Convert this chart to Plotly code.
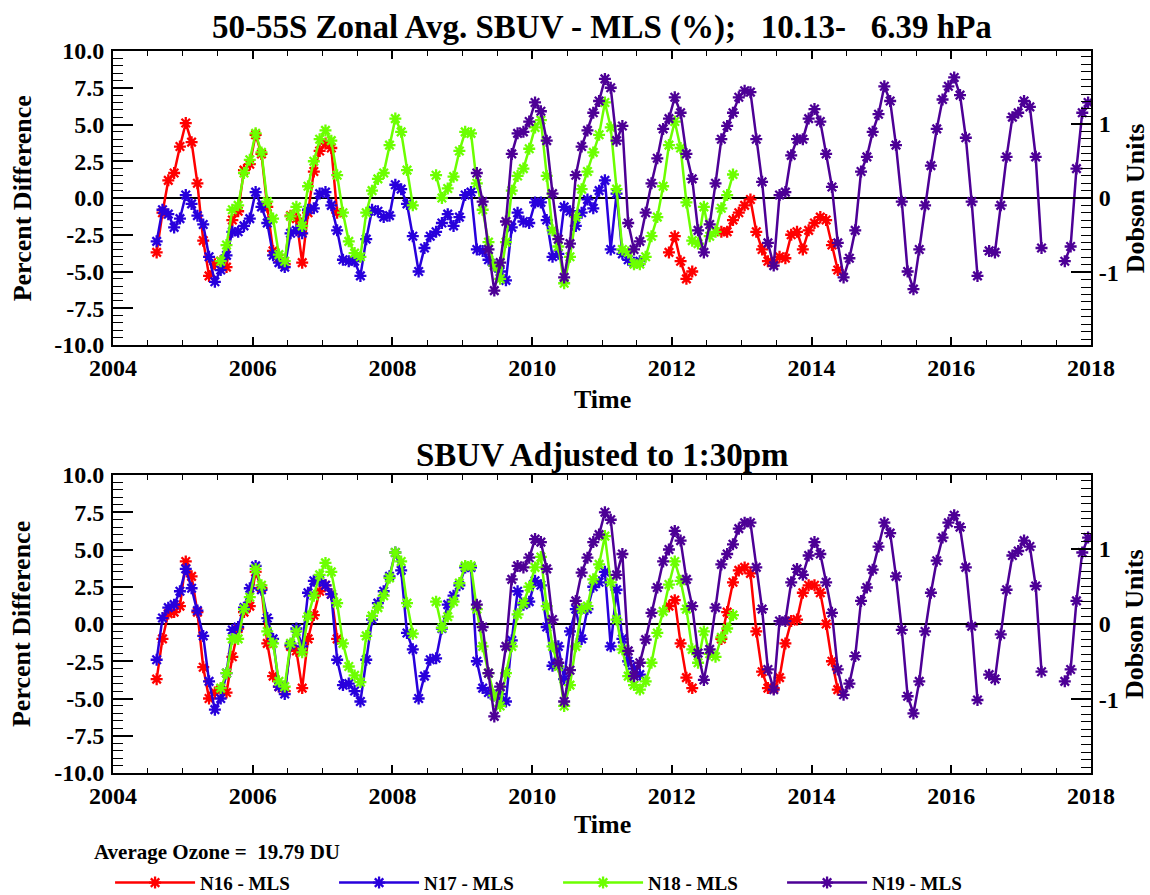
import plotly.graph_objects as go

FONT = "Liberation Serif, Times New Roman, serif"
AVG_OZONE = 19.79  # DU
TITLE_TOP = "50-55S Zonal Avg. SBUV - MLS (%);\u00a0\u00a0\u00a010.13-\u00a0\u00a0\u00a06.39 hPa"
TITLE_BOTTOM = "SBUV Adjusted to 1:30pm"

SERIES_NAMES = ["N16 - MLS", "N17 - MLS", "N18 - MLS", "N19 - MLS"]
SERIES_COLORS = ["#ff0000", "#2800dc", "#6cff00", "#4d0096"]

YEAR_TICKS = [2004, 2006, 2008, 2010, 2012, 2014, 2016, 2018]
PCT_TICKS = [-10, -7.5, -5, -2.5, 0, 2.5, 5, 7.5, 10]
PCT_LABELS = ["-10.0", "-7.5", "-5.0", "-2.5", "0.0", "2.5", "5.0", "7.5", "10.0"]
DU_TICKS = [-1, 0, 1]
DU_LABELS = ["-1", "0", "1"]

# ---------------- Top panel (monthly, start (year, month)) ----------------
N16_TOP_A_START = (2004, 8)
N16_TOP_A = [-3.7, -1.0, 1.2, 1.7, 3.5,
             5.1, 3.8, 1.0, -2.9, -5.3, -4.5, -4.3, -4.7, -1.5, -0.9, 1.9, 2.3,
             4.3, 3.0, -0.6, -3.6, -4.1, -4.5, -1.2, -1.4, -4.4, -1.0, 1.8, 3.2,
             3.7, 3.4, -1.0]
N16_TOP_B_START = (2011, 12)
N16_TOP_B = [-3.7, -2.6, -4.3, -5.5, -5.0]
N16_TOP_C_START = (2012, 9)
N16_TOP_C = [-2.3, -2.3, -1.5, -1.0, -0.5, -0.1, -2.3, -3.5, -4.3, -4.4, -4.0, -4.1,
             -2.5, -2.3, -3.5, -2.2, -1.7, -1.3, -1.5, -3.2, -4.9]

N17_TOP_START = (2004, 8)
N17_TOP = [-2.95, -0.8, -1.1, -2.0, -1.4,
           0.2, -0.4, -1.2, -1.8, -4.0, -5.7, -4.9, -3.9, -2.3, -2.3, -1.9, -1.4,
           0.4, -0.6, -1.7, -3.9, -4.4, -4.7, -2.4, -2.2, -2.4, -0.8, -0.7, 0.3,
           0.4, -0.5, -2.2, -4.2, -4.3, -4.3, -5.3, -2.8, -0.8, -0.9, -1.3, -1.2,
           0.9, 0.6, -0.4, -2.6, -5.0, -3.4, -2.6, -2.3, -1.7, -1.1, -1.9, -1.3,
           0.2, 0.4, -3.5, -3.6, -4.2, -4.6, -5.0, -5.6, -2.0, -1.0, -1.6, -1.7,
           -0.3, -0.3, -1.5, -4.0, -3.8, -0.6, -0.9, -1.9, -1.0, -0.1, -0.7, 0.5,
           1.2, -3.5, 0.3, -3.8, -4.2, -4.4, -4.3]

N18_TOP_START = (2005, 7)
N18_TOP = [-4.3, -3.2, -0.8, -0.5, 1.7, 2.6,
           4.4, 3.1, -0.25, -1.4, -3.85, -4.3, -1.25, -0.6, -1.9, 0.8, 2.5, 4.0,
           4.6, 3.9, 1.55, -1.0, -2.95, -3.75, -4.0, -1.0, 0.5, 1.3, 1.7, 3.6,
           5.4, 4.5, 1.9, -0.5, None, None, None, 1.55, 0.0, 0.65, 1.45, 3.2,
           4.5, 4.4, 1.0, -0.8, -3.0, -4.6, -5.5, -3.0, 0.5, 1.5, 2.0, 3.35,
           4.8, 5.3, 1.5, -2.2, -3.3, -5.8, -4.0, -1.3, 0.6, 1.8, 3.1, 4.3,
           6.5, 4.8, 0.6, -3.5, -3.7, -4.5, -4.5, -4.0, -2.6, -1.3, 0.8, 3.6,
           5.2, 3.4, -0.3, -2.9, -3.1, -0.6, -2.6, -2.3, -0.7, 0.2, 1.6]

N19_TOP_START = (2009, 3)
N19_TOP = [1.7, -0.25, -3.5, -6.3, -4.4, -1.6, 3.0, 4.4, 4.5, 5.2,
           6.5, 5.9, 3.9, 0.3, -2.8, -5.4, -3.1, 1.55, 3.5, 4.6, 5.8, 6.6,
           8.1, 7.5, 3.9, 4.9, -1.7, -3.5, -2.95, -1.0, 1.0, 2.7, 4.7, 5.4,
           6.85, 5.8, 3.0, 1.3, -2.2, -3.7, -1.8, 1.0, 4.0, 4.9, 5.8, 6.85,
           7.3, 7.2, 4.0, 1.1, -3.05, -4.6, 0.2, 0.4, 2.9, 4.0, 4.0, 5.4,
           6.05, 5.2, 3.0, 0.75, -3.05, -5.4, -4.1, -2.2, 1.8, 2.8, 4.5, 5.7,
           7.6, 6.6, 3.6, -0.25, -5.0, -6.2, -3.5, -0.5, 2.2, 4.7, 6.7, 7.6,
           8.2, 7.0, 4.1, -0.25, -5.3, None, -3.6, -3.7, -0.5, 2.8, 5.5, 5.8,
           6.6, 6.2, 2.8, -3.4, None, None, None, -4.3, -3.3, 2.0, 5.8, 6.5]

# ---------------- Bottom panel (adjusted to 1:30pm) ----------------
N16_BOT_A_START = (2004, 8)
N16_BOT_A = [-3.7, -1.0, 0.7, 0.8, 1.2,
             4.2, 3.2, 0.8, -2.9, -5.0, -4.6, -4.4, -4.6, -2.2, -0.3, 0.8, 1.2,
             3.5, 2.4, -1.3, -3.5, -4.2, -4.5, -1.5, -1.8, -4.3, -1.0, 0.6, 2.2,
             2.6, 2.0, -1.0]
N16_BOT_B_START = (2011, 12)
N16_BOT_B = [1.2, 1.6, -1.3, -3.6, -4.3]
N16_BOT_C_START = (2012, 9)
N16_BOT_C = [-1.0, 0.8, 2.8, 3.6, 3.8, 3.4, -0.5, -3.2, -4.3, -4.3, -3.6, -1.3,
             0.2, 0.3, 2.1, 2.6, 2.6, 2.1, 0.0, -2.5, -4.4]

N17_BOT_START = (2004, 8)
N17_BOT = [-2.4, 0.4, 1.1, 1.3, 2.2,
           3.7, 2.4, 0.9, -0.8, -3.85, -5.75, -5.0, -3.3, -0.4, -0.2, 1.1, 2.4,
           3.9, 2.3, 0.4, -1.0, -4.2, -4.7, -1.4, -0.3, -1.5, 2.1, 2.9, 2.9,
           2.6, 2.0, -2.4, -4.1, -4.0, -4.5, -5.2, -2.4, 0.3, 1.4, 2.2, 3.2,
           4.8, 3.6, -0.6, -1.7, -5.0, -3.5, -2.4, -2.3, -0.3, 1.3, 1.9, 2.6,
           3.8, 3.8, -2.5, -4.3, -4.6, -4.8, -4.7, -5.2, -1.1, 2.2, 1.3, 1.5,
           2.9, 2.6, -0.2, -2.8, -1.5, -3.7, -0.5, 1.0, -1.0, 1.0, 2.5, 2.8,
           3.5, -1.5, 2.3, -1.0, -2.5, -3.0, -3.4]

N18_BOT_START = (2005, 7)
N18_BOT = [-4.3, -3.3, -1.0, -1.0, 1.0, 1.8,
           3.7, 2.6, -0.5, -1.3, -3.85, -4.2, -1.3, -0.5, -1.9, 0.5, 1.9, 3.3,
           4.1, 3.5, 1.4, -1.3, -2.85, -3.45, -3.9, -0.8, 0.55, 1.1, 1.9, 3.1,
           4.8, 4.2, 1.4, -0.65, None, None, None, 1.5, -0.25, 0.5, 1.5, 2.75,
           3.9, 3.9, 1.0, -1.5, -3.3, -4.8, -5.5, -3.3, -1.5, 0.65, 1.4, 2.5,
           3.8, 4.5, 1.2, -1.5, -2.85, -5.5, -4.1, -1.5, 1.0, 1.2, 3.0, 4.0,
           5.9, 2.8, 0.3, -1.7, -3.5, -4.1, -4.4, -3.85, -2.6, -0.6, 0.85, 2.65,
           4.2, 2.9, 1.0, -1.7, -2.6, -0.5, -2.0, -2.2, -0.9, -0.3, 0.6]

N19_BOT_START = (2009, 3)
N19_BOT = [1.3, -0.2, -3.3, -6.2, -4.2, -1.5, 3.0, 3.9, 3.8, 4.45,
           5.7, 5.5, 3.7, 0.3, -2.6, -5.2, -3.1, 1.55, 3.45, 4.45, 5.5, 6.0,
           7.5, 7.0, 3.3, 4.7, -1.8, -3.5, -2.6, -1.05, 0.75, 2.45, 4.2, 5.0,
           6.25, 5.6, 3.0, 1.2, -1.95, -3.75, -1.7, 1.1, 4.0, 4.7, 5.35, 6.4,
           6.8, 6.8, 3.8, 1.0, -3.05, -4.4, 0.2, 0.2, 2.8, 3.7, 3.3, 4.6,
           5.5, 4.7, 2.8, 0.75, -3.05, -4.75, -4.0, -2.15, 1.55, 2.45, 3.65, 5.2,
           6.8, 6.1, 3.2, -0.4, -4.85, -6.0, -3.85, -0.5, 2.1, 4.25, 5.8, 6.8,
           7.3, 6.5, 3.8, -0.15, -5.1, None, -3.4, -3.7, -0.7, 2.3, 4.6, 4.9,
           5.6, 5.2, 2.55, -3.2, None, None, None, -3.85, -3.05, 1.55, 4.8, 5.8]


def expand(segments):
    """Turn [(start(year, month), values), ...] into mid-month decimal years."""
    xs, ys = [], []
    for (y0, m0), vals in segments:
        if xs:
            xs.append(None)
            ys.append(None)
        for i, v in enumerate(vals):
            m = m0 - 1 + i
            xs.append(y0 + m // 12 + ((m % 12) + 0.5) / 12.0)
            ys.append(v)
    return xs, ys


TOP = [
    [(N16_TOP_A_START, N16_TOP_A), (N16_TOP_B_START, N16_TOP_B), (N16_TOP_C_START, N16_TOP_C)],
    [(N17_TOP_START, N17_TOP)],
    [(N18_TOP_START, N18_TOP)],
    [(N19_TOP_START, N19_TOP)],
]
BOT = [
    [(N16_BOT_A_START, N16_BOT_A), (N16_BOT_B_START, N16_BOT_B), (N16_BOT_C_START, N16_BOT_C)],
    [(N17_BOT_START, N17_BOT)],
    [(N18_BOT_START, N18_BOT)],
    [(N19_BOT_START, N19_BOT)],
]

fig = go.Figure()
for panel, (xa, ya) in ((TOP, ("x", "y")), (BOT, ("x2", "y2"))):
    for k, segs in enumerate(panel):
        xs, ys = expand(segs)
        fig.add_trace(go.Scatter(
            x=xs, y=ys, xaxis=xa, yaxis=ya, mode="lines+markers",
            name=SERIES_NAMES[k], legendgroup=SERIES_NAMES[k],
            showlegend=(xa == "x"),
            line=dict(color=SERIES_COLORS[k], width=2.5),
            marker=dict(symbol="asterisk-open", size=10,
                        line=dict(color=SERIES_COLORS[k], width=2.3)),
            hoverinfo="skip"))

# empty traces so the right-hand Dobson-unit axes are drawn
for xa, ya in (("x", "y3"), ("x2", "y4")):
    fig.add_trace(go.Scatter(x=[None], y=[None], xaxis=xa, yaxis=ya,
                             showlegend=False, hoverinfo="skip"))

du_max = 10.0 * AVG_OZONE / 100.0
tickfont = dict(family=FONT, size=24, color="black", weight="bold")

xcommon = dict(range=[2004, 2018], tickmode="array", tickvals=YEAR_TICKS,
               ticktext=[str(v) for v in YEAR_TICKS],
               ticks="inside", ticklen=8, tickwidth=1.5, tickcolor="black",
               showline=True, linecolor="black", linewidth=2, mirror="ticks",
               showgrid=False, zeroline=False, tickfont=tickfont,
               ticklabelstandoff=0,
               minor=dict(ticks="inside", ticklen=5, tickmode="linear",
                          tick0=2004, dtick=0.5, tickcolor="black",
                          tickwidth=1, showgrid=False))
ycommon = dict(range=[-10, 10], tickmode="array", tickvals=PCT_TICKS,
               ticktext=PCT_LABELS, ticks="inside", ticklen=20, tickwidth=1.5,
               tickcolor="black", showline=True, linecolor="black",
               linewidth=2, mirror=False, showgrid=False,
               zeroline=True, zerolinecolor="black", zerolinewidth=1.5,
               tickfont=tickfont, ticklabelstandoff=2,
               minor=dict(ticks="inside", ticklen=10, tickmode="linear",
                          tick0=0, dtick=0.5, tickcolor="black", tickwidth=1,
                          showgrid=False))
ducommon = dict(range=[-du_max, du_max], side="right", tickmode="array",
                tickvals=DU_TICKS, ticktext=DU_LABELS, ticks="inside",
                ticklen=20, tickwidth=1.5, tickcolor="black", showline=True,
                linecolor="black", linewidth=2, showgrid=False, zeroline=False,
                tickfont=tickfont, ticklabelstandoff=1,
                minor=dict(ticks="inside", ticklen=10, tickmode="linear",
                           tick0=0, dtick=0.1, tickcolor="black", tickwidth=1,
                           showgrid=False))

TOP_DOMAIN = [0.5928, 1.0]
BOT_DOMAIN = [0.0, 0.4127]

fig.update_layout(
    width=1150, height=895,
    margin=dict(l=113, r=59, t=51, b=122, autoexpand=False),
    paper_bgcolor="white", plot_bgcolor="white",
    font=dict(family=FONT, color="black"),
    xaxis=dict(xcommon, anchor="y", domain=[0, 1]),
    xaxis2=dict(xcommon, anchor="y2", domain=[0, 1]),
    yaxis=dict(ycommon, anchor="x", domain=TOP_DOMAIN),
    yaxis2=dict(ycommon, anchor="x2", domain=BOT_DOMAIN),
    yaxis3=dict(ducommon, anchor="x", overlaying="y"),
    yaxis4=dict(ducommon, anchor="x2", overlaying="y2"),
    showlegend=True,
    legend=dict(orientation="h", x=-0.003, xanchor="left", y=-0.152,
                yanchor="middle", entrywidth=129, entrywidthmode="pixels",
                itemwidth=80, bgcolor="rgba(0,0,0,0)",
                font=dict(family=FONT, size=19, color="black", weight="bold")),
)

def ann(text, x, y, size, angle=0, xanchor="center"):
    fig.add_annotation(text="<b>" + text + "</b>", x=x, y=y, xref="paper",
                       yref="paper", showarrow=False, textangle=angle,
                       xanchor=xanchor, yanchor="middle",
                       font=dict(family=FONT, size=size, color="black"))

ann(TITLE_TOP, 0.5, 1.032, 33)
ann(TITLE_BOTTOM, 0.5, 0.4404, 33)
ann("Time", 0.5, 0.518, 26)
ann("Time", 0.5, -0.072, 26)
for yc in (0.796, 0.2064):
    ann("Percent Difference", -0.093, yc, 26, angle=-90)
    ann("Dobson Units", 1.045, yc, 26, angle=-90)
ann("Average Ozone =\u00a0\u00a0%.2f DU" % AVG_OZONE, -0.0215, -0.1094, 21,
    xanchor="left")

fig.write_html("out.html")
